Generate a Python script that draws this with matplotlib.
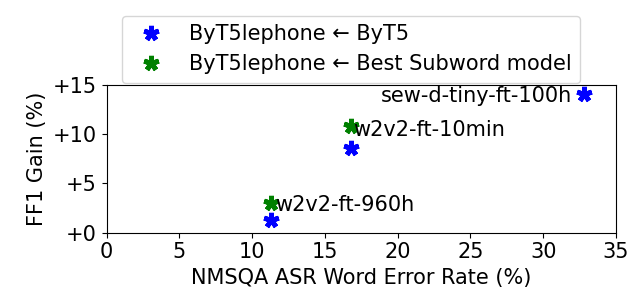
import numpy as np
import matplotlib.pyplot as plt

# NMSQA ASR WER (%) vs FF1 gain (%)
byt5_wer = [11.3, 16.8, 32.8]
byt5_gain = [1.3, 8.6, 14.1]
subword_wer = [11.3, 16.8]
subword_gain = [3.0, 10.8]

model_names = ['w2v2-ft-960h', 'w2v2-ft-10min', 'sew-d-tiny-ft-100h']
label_x = [11.55, 16.95, 31.95]
label_y = [2.8, 10.4, 13.9]
label_ha = ['left', 'left', 'right']

FS = 15


def main():
    plt.rcParams['font.size'] = FS
    fig = plt.figure(figsize=(6.35, 3.04), dpi=100)
    ax = fig.add_axes([0.168, 0.235, 0.802, 0.486])

    star = (5, 2, 0)
    ax.plot(byt5_wer, byt5_gain, linestyle='none', marker=star, color='blue',
            markersize=11, markeredgewidth=3.5, label='ByT5lephone ← ByT5')
    ax.plot(subword_wer, subword_gain, linestyle='none', marker=star, color='green',
            markersize=11, markeredgewidth=3.5, label='ByT5lephone ← Best Subword model')

    for name, x, y, ha in zip(model_names, label_x, label_y, label_ha):
        ax.text(x, y, name, ha=ha, va='center', fontsize=FS)

    ax.set_xlim(0, 35)
    ax.set_ylim(0, 15)
    ax.set_xticks(np.arange(0, 36, 5))
    ax.set_yticks([0, 5, 10, 15])
    ax.set_yticklabels([f'+{v}' for v in [0, 5, 10, 15]])
    ax.set_xlabel('NMSQA ASR Word Error Rate (%)')
    ax.set_ylabel('FF1 Gain (%)')

    ax.legend(loc='lower center', bbox_to_anchor=(0.48, 1.0), fontsize=FS,
              borderaxespad=0.1)
    fig.savefig('out.png', dpi=100)


if __name__ == "__main__":
    main()
